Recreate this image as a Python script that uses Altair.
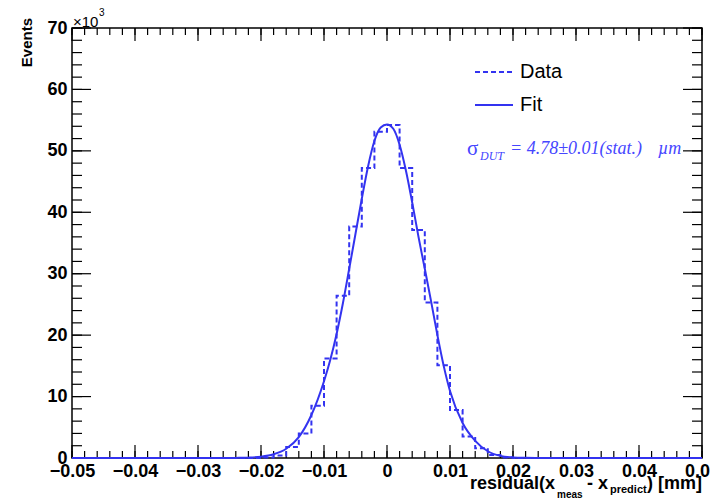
import altair as alt
import pandas as pd
import numpy as np

# ---------------- data ----------------
X_MIN, X_MAX = -0.05, 0.05
BIN_W = 0.002
# histogram counts (x10^3 events), 50 bins of width 0.002 from -0.05 to 0.05
counts_k = [0, 0, 0, 0, 0, 0, 0, 0, 0, 0, 0, 0, 0, 0, 0,
            0.1, 0.4, 1.8, 4.0, 8.5, 16.2, 26.4, 37.7, 47.2, 53.1,
            54.2, 47.2, 37.1, 25.3, 15.1, 7.8, 3.5, 1.6, 0.5, 0.1,
            0, 0, 0, 0, 0, 0, 0, 0, 0, 0, 0, 0, 0, 0, 0]
# fit curve (x10^3 events)
fit_x = [-0.05, -0.026, -0.024, -0.022, -0.020, -0.018, -0.016, -0.014, -0.012, -0.010,
         -0.009, -0.008, -0.007, -0.006, -0.005, -0.004, -0.003, -0.002, -0.001, 0.0,
         0.001, 0.002, 0.003, 0.004, 0.005, 0.006, 0.007, 0.008, 0.009, 0.010,
         0.012, 0.014, 0.016, 0.018, 0.020, 0.022, 0.024, 0.026, 0.05]
fit_k = [0, 0, 0.02, 0.06, 0.2, 0.6, 1.5, 3.4, 7.0, 12.5,
         16.0, 20.2, 25.2, 30.8, 36.5, 42.2, 47.5, 51.6, 53.8, 54.3,
         53.6, 51.0, 46.8, 41.6, 36.0, 30.8, 25.5, 20.0, 15.0, 10.9,
         5.7, 2.8, 1.1, 0.35, 0.1, 0.03, 0.01, 0, 0]
x_major = [-0.05, -0.04, -0.03, -0.02, -0.01, 0.0, 0.01, 0.02, 0.03, 0.04, 0.05]
y_major = [0, 10000, 20000, 30000, 40000, 50000, 60000, 70000]
x_minor = [round(-0.05 + 0.002 * i, 4) for i in range(51)]
y_minor = [2000 * i for i in range(36)]

# ---------------- style ----------------
W, H = 630, 430
BLUE = "#3333f0"
TXTBLUE = "#4646ff"
FONT = "Liberation Sans"
SERIF = "Liberation Serif"

edges = [round(X_MIN + BIN_W * i, 4) for i in range(51)]
hist_df = pd.DataFrame({"x": edges, "y": [c * 1000 for c in counts_k] + [counts_k[-1] * 1000]})
fit_df = pd.DataFrame({"x": fit_x, "y": [v * 1000 for v in fit_k]})

xs = alt.Scale(domain=[X_MIN, X_MAX], nice=False, zero=False)
ys = alt.Scale(domain=[0, 70000], nice=False)

x_axis = alt.Axis(values=x_major, format=".2~f", ticks=False, domain=False, grid=False,
                  labelFont=FONT, labelFontWeight="bold", labelFontSize=18, labelColor="black",
                  labelPadding=4, labelFlush=False, labelOverlap=False, title=None)
y_axis = alt.Axis(values=y_major, labelExpr="format(datum.value/1000,'d')", ticks=False,
                  domain=False, grid=False, labelFont=FONT, labelFontWeight="bold",
                  labelFontSize=18, labelColor="black", labelPadding=5, labelFlush=False,
                  labelOverlap=False, title=None)

X = lambda f: alt.X(f, type="quantitative", scale=xs, axis=x_axis)
Y = lambda f: alt.Y(f, type="quantitative", scale=ys, axis=y_axis)

layers = []

# ticks (ROOT style, inside, on all four sides)
def xticks(vals, L):
    d = pd.DataFrame({"v": vals})
    b = alt.Chart(d).mark_rule(color="black", strokeWidth=1.2).encode(
        x=X("v"), y=alt.value(H), y2=alt.value(H - L))
    t = alt.Chart(d).mark_rule(color="black", strokeWidth=1.2).encode(
        x=X("v"), y=alt.value(0), y2=alt.value(L))
    return [b, t]

def yticks(vals, L):
    d = pd.DataFrame({"v": vals})
    l = alt.Chart(d).mark_rule(color="black", strokeWidth=1.2).encode(
        y=Y("v"), x=alt.value(0), x2=alt.value(L))
    r = alt.Chart(d).mark_rule(color="black", strokeWidth=1.2).encode(
        y=Y("v"), x=alt.value(W), x2=alt.value(W - L))
    return [l, r]

layers += xticks(x_minor, 7) + xticks(x_major, 13) + yticks(y_minor, 10) + yticks(y_major, 19)

hist = alt.Chart(hist_df).mark_line(interpolate="step-after", strokeDash=[5, 3],
                                    strokeWidth=2, color=BLUE).encode(x=X("x"), y=Y("y"))
fit = alt.Chart(fit_df).mark_line(interpolate="monotone", strokeWidth=2,
                                  color=BLUE).encode(x=X("x"), y=Y("y"))
layers += [hist, fit]

one = alt.Data(values=[{"a": 1}])

def txt(text, x, y, size, font=FONT, color="black", align="left", baseline="middle",
        weight="normal", style="normal", angle=0):
    return alt.Chart(one).mark_text(text=text, fontSize=size, font=font, color=color,
                                    align=align, baseline=baseline, fontWeight=weight,
                                    fontStyle=style, angle=angle).encode(
        x=alt.value(x), y=alt.value(y))

# legend
layers.append(alt.Chart(one).mark_rule(color=BLUE, strokeWidth=2, strokeDash=[5, 3]).encode(
    x=alt.value(403), x2=alt.value(441), y=alt.value(44)))
layers.append(alt.Chart(one).mark_rule(color=BLUE, strokeWidth=2).encode(
    x=alt.value(403), x2=alt.value(441), y=alt.value(77)))
layers.append(txt("Data", 448, 44, 20))
layers.append(txt("Fit", 448, 77, 20))

# sigma annotation
layers.append(txt("σ", 395, 121, 21, font=SERIF, color=TXTBLUE))
layers.append(txt("DUT", 408, 128, 12, font=SERIF, color=TXTBLUE, style="italic"))
layers.append(txt("= 4.78±0.01(stat.)", 438, 121, 18, font=SERIF, color=TXTBLUE, style="italic"))
layers.append(txt("µm", 586, 121, 18, font=SERIF, color=TXTBLUE, style="italic"))

# x10^3
layers.append(txt("×10", 1, -6, 15))
layers.append(txt("3", 27, -15, 10))

# axis titles
layers.append(txt("Events", -40, -10, 15, align="right", baseline="alphabetic",
                  weight="bold", angle=270))
layers.append(txt("residual(x", 398, 456, 18, weight="bold"))
layers.append(txt("meas", 485, 467, 10, weight="bold"))
layers.append(txt("- x", 515, 456, 18, weight="bold"))
layers.append(txt("predict", 538, 462, 11, weight="bold"))
layers.append(txt(") [mm]", 630, 456, 18, weight="bold", align="right"))

chart = alt.layer(*layers).properties(
    width=W, height=H,
    autosize=alt.AutoSizeParams(type="none"),
    padding={"left": 64, "top": 20, "right": 8, "bottom": 42},
).configure_view(stroke="black", strokeWidth=1.5).configure_axis(grid=False)

chart.save("out.html", embed_options={"renderer": "svg", "actions": False})
